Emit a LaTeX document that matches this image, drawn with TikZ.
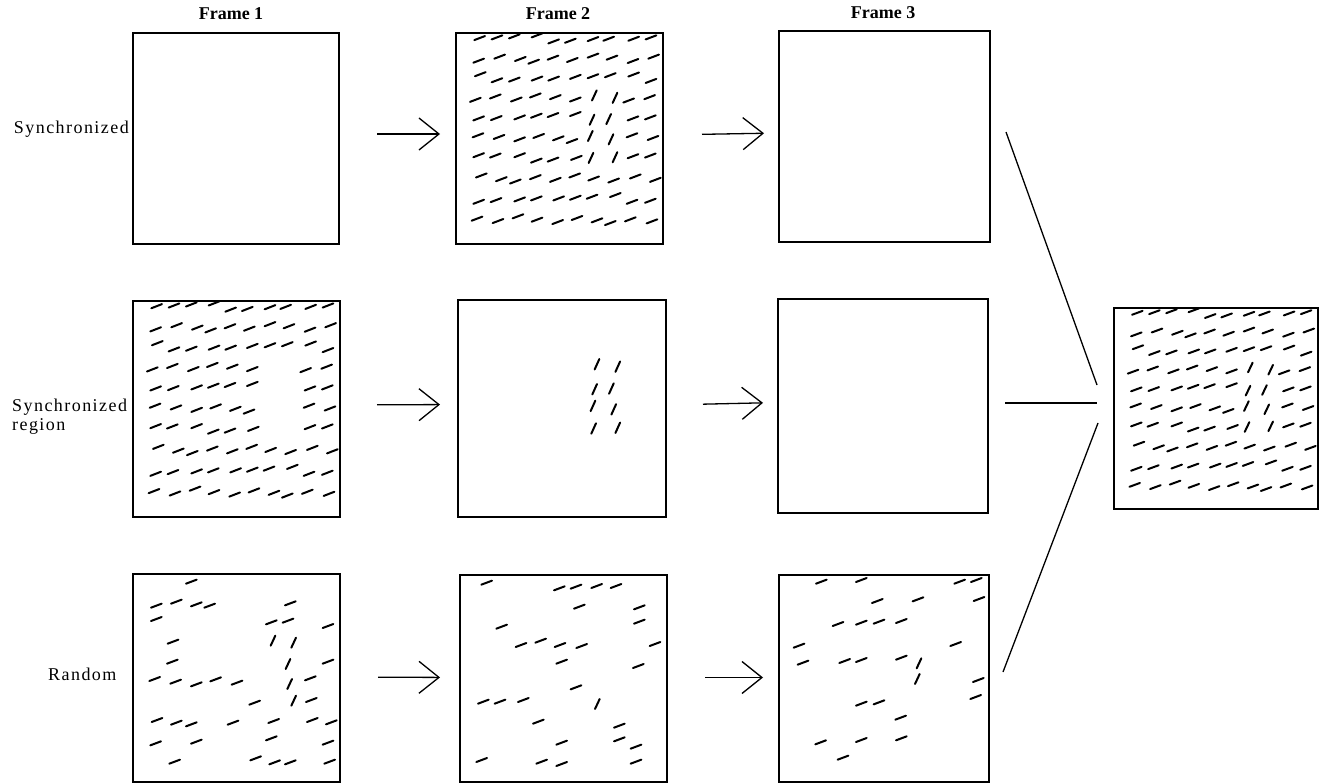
\documentclass[tikz,border=0pt]{standalone}
\usepackage{fontspec}
\setmainfont{Liberation Serif}
\newfontfamily\lblfont[LetterSpace=8]{Liberation Serif}
\usetikzlibrary{arrows.meta}

% Orientation field of the synchronized display (coordinates on a 621 x 625 grid)
\def\synch{71/15,123/13,175/10,243/7,293/25,343/23,411/18,458/17,533/17,585/13,
68/82,131/70,193/77,233/85,291/73,349/80,411/67,468/73,531/83,593/70,
73/122,123/140,175/138,243/135,293/135,358/130,411/128,463/125,533/123,585/142,
58/198,118/188,181/197,238/185,298/190,358/197,518/200,581/190,
68/253,121/252,191/250,241/245,291/243,358/240,531/253,583/250,
66/303,129/308,191/315,248/305,307/312,348/320,528/303,591/311,
68/362,118/363,191/362,241/378,291/375,361/370,531/365,583/363,
76/422,136/433,178/440,238/427,298/435,356/422,413/431,473/437,538/425,598/435,
68/500,120/495,191/493,241/490,308/490,358/488,408/485,478/480,528/500,583/497,
63/550,126/557,186/543,243/553,305/560,363/548,423/555,463/563,523/552,588/558}
\def\syncv{415/185,477/192,408/257,458/255,403/305,465/315,405/370,477/368}

% Random displays (coordinates on a 3x grid relative to each frame)
\def\randAh{175/23,70/95,130/83,190/91,230/95,472/88,70/135,415/145,465/140,585/156,
120/203,118/263,585/263,65/315,128/323,190/331,248/316,312/326,532/313,365/386,535/378,
72/438,130/446,175/451,300/446,422/441,538/438,595/445,68/508,190/503,415/493,585/506,
125/563,368/553,425/565,472/565,590/563}
\def\randAv{420/200,482/206,465/270,470/330,482/380}
\def\randBh{80/23,298/40,348/35,410/33,468/33,358/95,538/97,538/140,125/155,
183/210,242/197,300/210,365/213,585/207,305/260,535/273,348/337,70/380,120/380,190/375,
235/440,478/452,305/503,478/493,528/515,65/555,245/560,305/567,528/560}
\def\randBv{412/387}
\def\randCh{127/20,247/15,542/20,592/15,295/78,417/73,600/72,177/147,247/143,300/140,367/138,
60/212,530/207,72/263,197/258,247/255,367/248,598/315,590/366,247/386,300/382,365/428,
125/502,247/495,367/490,192/548}
\def\randCv{420/265,415/312}

\tikzset{
  frame/.style={draw, line width=1.4pt, inner sep=0pt, outer sep=0pt, anchor=north west},
  seg/.style={line width=2pt, line cap=round},
  link/.style={line width=1.3pt},
  arr/.style={line width=1.3pt, -{Straight Barb[length=20pt,width=32pt]}},
  lbl/.style={font=\fontsize{18}{19}\selectfont\lblfont, inner sep=0pt},
  ttl/.style={font=\fontsize{18}{19}\selectfont\bfseries, inner sep=0pt},
}

\newcommand\hdashes[1]{\foreach \x/\y in #1 {\draw[seg] (\x,\y) ++(-16,6) -- ++(32,-12);}}
\newcommand\vdashes[1]{\foreach \x/\y in #1 {\draw[seg] (\x,\y) ++(-7,15) -- ++(14,-30);}}

\begin{document}
\begin{tikzpicture}[x=1pt,y=-1pt]
\useasboundingbox (0,0) rectangle (1320,784);

% frames
\node[frame, minimum width=206pt, minimum height=211pt] (f11) at (133,33) {};
\node[frame, minimum width=207pt, minimum height=211pt] (f12) at (456,33) {};
\node[frame, minimum width=211pt, minimum height=211pt] (f13) at (779,31) {};
\node[frame, minimum width=207pt, minimum height=216pt] (f21) at (133,301) {};
\node[frame, minimum width=208pt, minimum height=217pt] (f22) at (458,300) {};
\node[frame, minimum width=210pt, minimum height=214pt] (f23) at (778,299) {};
\node[frame, minimum width=207pt, minimum height=208pt] (f31) at (133,574) {};
\node[frame, minimum width=207pt, minimum height=207pt] (f32) at (460,575) {};
\node[frame, minimum width=210pt, minimum height=207pt] (f33) at (779,575) {};
\node[frame, minimum width=204pt, minimum height=201pt] (res) at (1114,308) {};

% titles and row labels
\node[ttl, anchor=base] (t1) at (231,20) {Frame 1};
\node[ttl, anchor=base] (t2) at (558,20) {Frame 2};
\node[ttl, anchor=base] (t3) at (883,19) {Frame 3};
\node[lbl, anchor=base east] (l1) at (129,133) {Synchronized};
\node[lbl, anchor=base west] (l2a) at (12,411) {Synchronized};
\node[lbl, anchor=base west] (l2b) at (12,430) {region};
\node[lbl, anchor=base west] (l3) at (48,680) {Random};

% line segments inside the frames
\begin{scope}[shift={(f12.north west)}, xscale=207/621, yscale=211/625]
  \hdashes{\synch}\vdashes{\syncv}
\end{scope}
\begin{scope}[shift={(f21.north west)}, xscale=207/621, yscale=216/625]
  \hdashes{\synch}
\end{scope}
\begin{scope}[shift={(f22.north west)}, xscale=208/621, yscale=217/625]
  \vdashes{\syncv}
\end{scope}
\begin{scope}[shift={(res.north west)}, xscale=204/621, yscale=201/625]
  \hdashes{\synch}\vdashes{\syncv}
\end{scope}
\begin{scope}[shift={(f31.north west)}, scale=1/3]
  \hdashes{\randAh}\vdashes{\randAv}
\end{scope}
\begin{scope}[shift={(f32.north west)}, scale=1/3]
  \hdashes{\randBh}\vdashes{\randBv}
\end{scope}
\begin{scope}[shift={(f33.north west)}, scale=1/3]
  \hdashes{\randCh}\vdashes{\randCv}
\end{scope}

% arrows between successive frames
\draw[arr, shorten <=38pt, shorten >=16pt] ([yshift=4.5pt]f11.east) -- ([yshift=4.5pt]f12.west);
\draw[arr, shorten <=39pt, shorten >=15pt] ([yshift=3.5pt]f12.east) -- ([yshift=3.5pt]f13.west);
\draw[arr, shorten <=37pt, shorten >=18pt] ([yshift=4pt]f21.east) -- ([yshift=4pt]f22.west);
\draw[arr, shorten <=37pt, shorten >=15pt] ([yshift=3.5pt]f22.east) -- ([yshift=3.5pt]f23.west);
\draw[arr, shorten <=38pt, shorten >=20pt] ([yshift=1pt]f31.east) -- ([yshift=1pt]f32.west);
\draw[arr, shorten <=38pt, shorten >=16pt] ([yshift=1pt]f32.east) -- ([yshift=1pt]f33.west);

% lines gathering the three rows into the summed display
\coordinate (j1) at (1006,132); \coordinate (k1) at (1097,385);
\coordinate (j2) at (1005,403); \coordinate (k2) at (1097,403);
\coordinate (j3) at (1003,672); \coordinate (k3) at (1098,423);
\draw[link] (j1) -- (k1);
\draw[link] (j2) -- (k2);
\draw[link] (j3) -- (k3);
\end{tikzpicture}
\end{document}
